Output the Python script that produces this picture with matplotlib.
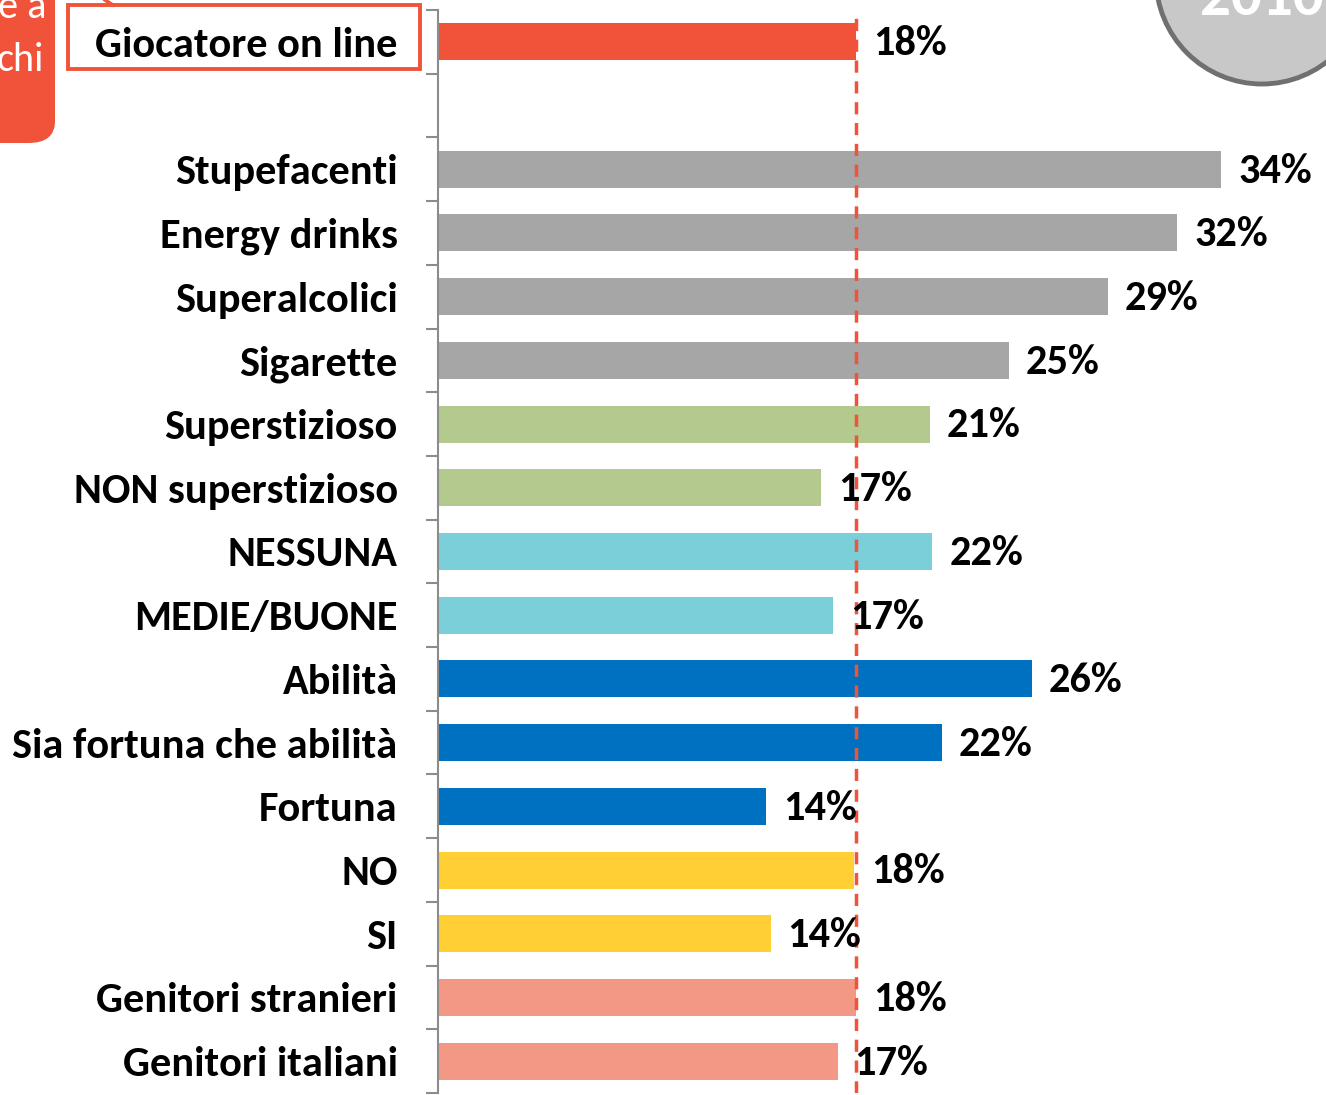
import matplotlib.pyplot as plt
from matplotlib.patches import Rectangle, FancyBboxPatch, Circle
from matplotlib.lines import Line2D

plt.rcParams['font.family'] = ['Carlito', 'Lato', 'DejaVu Sans']

# categorie dall'alto verso il basso ("" = riga vuota)
categorie = ["Giocatore on line", "", "Stupefacenti", "Energy drinks", "Superalcolici",
             "Sigarette", "Superstizioso", "NON superstizioso", "NESSUNA", "MEDIE/BUONE",
             "Abilità", "Sia fortuna che abilità", "Fortuna", "NO", "SI",
             "Genitori stranieri", "Genitori italiani"]
valori = [18.1, None, 33.9, 32.0, 29.0, 24.7, 21.3, 16.6, 21.4, 17.1,
          25.7, 21.8, 14.2, 18.0, 14.4, 18.1, 17.3]
etichette = ["18%", "", "34%", "32%", "29%", "25%", "21%", "17%", "22%", "17%",
             "26%", "22%", "14%", "18%", "14%", "18%", "17%"]
colori = ["#F0533A", None, "#A6A6A6", "#A6A6A6", "#A6A6A6", "#A6A6A6",
          "#B3C98E", "#B3C98E", "#7BCFD9", "#7BCFD9", "#0070C0", "#0070C0", "#0070C0",
          "#FFCF33", "#FFCF33", "#F39885", "#F39885"]
media = 18.1

W, H = 1326, 1095
fig = plt.figure(figsize=(W / 100, H / 100), dpi=100)
ax = fig.add_axes([438 / W, 1 - 1093 / H, 1 - 438 / W, (1093 - 10) / H])

px_per_unit = 23.1
ax.set_xlim(0, (W - 438) / px_per_unit)
ax.set_ylim(len(categorie) - 0.5, -0.5)

for i, (v, c, e) in enumerate(zip(valori, colori, etichette)):
    if v is None:
        continue
    ax.barh(i, v, height=0.58, color=c, zorder=2)
    ax.text(v + 17 / px_per_unit, i + 0.03, e, va="center", ha="left",
            fontsize=30.5, fontweight="bold", color="black", zorder=4)

ax.axvline(media, color="#F0533A", linestyle=(0, (3.5, 2.5)), linewidth=2.5, zorder=3)

ax.set_yticks(range(len(categorie)))
ax.set_yticklabels(categorie, fontsize=30.5, fontweight="bold")
ax.set_yticks([i - 0.5 for i in range(len(categorie) + 1)], minor=True)
ax.tick_params(axis="y", which="major", length=0, pad=29)
ax.tick_params(axis="y", which="minor", length=9, width=1.5, color="#8C8C8C")
ax.set_xticks([])
for s in ["top", "right", "bottom"]:
    ax.spines[s].set_visible(False)
ax.spines["left"].set_color("#8C8C8C")
ax.spines["left"].set_linewidth(1.5)

# riquadro rosso attorno a "Giocatore on line"
fig.patches.append(Rectangle((68 / W, 1 - 69 / H), (420 - 68) / W, 64 / H,
                             transform=fig.transFigure, fill=False,
                             edgecolor="#F0533A", linewidth=2.8, zorder=5))
fig.lines.append(Line2D([105 / W, 113 / W], [1.0, 1 - 5 / H], transform=fig.transFigure,
                        color="#F0533A", linewidth=2.5))

# box arancione tagliato a sinistra
fig.patches.append(FancyBboxPatch((-40 / W, 1 - 143 / H), 95 / W, 200 / H,
                                  boxstyle="round,pad=0,rounding_size=0.02",
                                  transform=fig.transFigure, facecolor="#F0533A",
                                  edgecolor="none", zorder=1))
fig.text(22 / W, 1 - 7 / H, "e a", color="white", fontsize=29, ha="center", va="center")
fig.text(20 / W, 1 - 60 / H, "chi", color="white", fontsize=29, ha="center", va="center")

# cerchio grigio "2010" in alto a destra
cerchio = Circle((1262, H + 22), 106, transform=None, facecolor="#C8C8C8",
                 edgecolor="#707070", linewidth=3.5, zorder=1)
fig.patches.append(cerchio)
fig.text(1200 / W, 1 - 15 / H, "2010", color="white", fontsize=44, fontweight="bold",
         ha="left", va="baseline")

fig.savefig("out.png", dpi=100)
